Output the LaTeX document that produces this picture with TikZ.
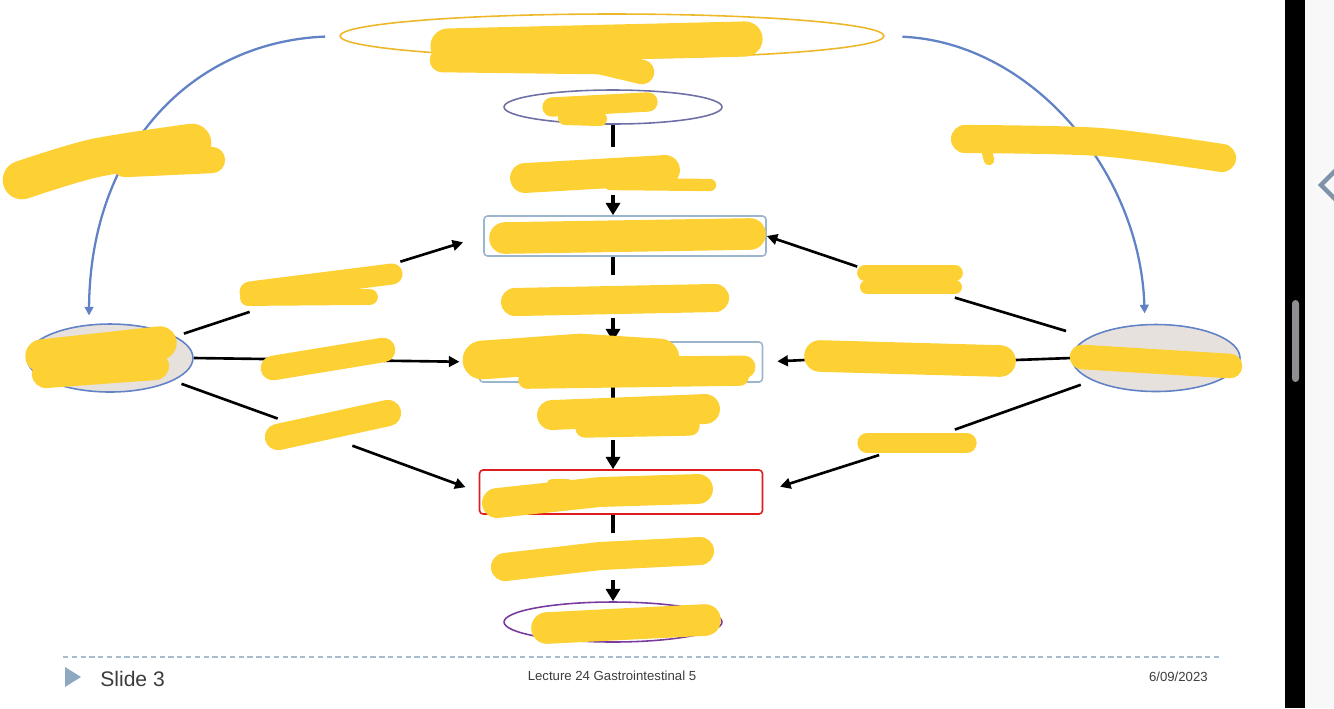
\documentclass[tikz,border=0pt]{standalone}
\usepackage{fontspec}
\setmainfont{Liberation Sans}
\usepackage{tikz}
\usetikzlibrary{arrows.meta}
\usetikzlibrary{positioning, shapes.geometric}

\definecolor{hlyellow}{RGB}{253,208,52}
\definecolor{ovalgold}{RGB}{236,183,40}
\definecolor{arcblue}{RGB}{98,130,198}
\definecolor{ovalslate}{RGB}{110,112,165}
\definecolor{boxgrey}{RGB}{156,180,204}
\definecolor{boxred}{RGB}{222,30,30}
\definecolor{ovalpurple}{RGB}{120,60,160}
\definecolor{sidefill}{RGB}{231,225,221}
\definecolor{footline}{RGB}{168,188,208}
\definecolor{foottri}{RGB}{143,168,194}
\definecolor{foottext}{RGB}{60,60,60}
\definecolor{panelgrey}{RGB}{248,248,248}
\definecolor{pillgrey}{RGB}{142,142,147}
\definecolor{chevgrey}{RGB}{127,147,168}

\begin{document}
\begin{tikzpicture}[x=0.02cm, y=-0.02cm,
    oval/.style={ellipse, draw, line width=0.9pt, inner sep=0pt},
    stepbox/.style={rectangle, rounded corners=2pt, draw, line width=0.9pt, inner sep=0pt},
    labelgap/.style={rectangle, inner sep=0pt},
    flow/.style={line width=2.2pt},
    flowarrow/.style={line width=2.2pt, -{Triangle[length=7pt, width=8pt]}},
    link/.style={line width=1.5pt},
    linkarrow/.style={line width=1.5pt, -{Triangle[length=6pt, width=6pt]}},
    bluearc/.style={draw=arcblue, line width=1.3pt, -{Triangle[length=5pt, width=5pt]}},
    scribble/.style={draw=hlyellow, line cap=round, line join=round}]
    \useasboundingbox (0,0) rectangle (1334,708);

    % right edge of the screen
    \fill[black] (1285,0) rectangle (1305,708);
    \fill[panelgrey] (1305,0) rectangle (1334,708);
    \fill[pillgrey, rounded corners=2pt] (1292,300) rectangle (1299,382);
    \draw[chevgrey, line width=2.5pt] (1336,170) -- (1321,185) -- (1336,200);

    % centre column
    \node[oval, draw=ovalgold, minimum width=10.88cm, minimum height=0.88cm] (top) at (612,36) {};
    \node[oval, draw=ovalslate, minimum width=4.36cm, minimum height=0.68cm] (src) at (613,107) {};
    \node[labelgap, minimum width=4.2cm, minimum height=0.94cm] (L1) at (613,171) {};
    \node[stepbox, draw=boxgrey, minimum width=5.64cm, minimum height=0.8cm] (box1) at (625,236) {};
    \node[labelgap, minimum width=4.4cm, minimum height=0.86cm] (L2) at (613,296.5) {};
    \node[stepbox, draw=boxgrey, minimum width=5.66cm, minimum height=0.8cm] (box2) at (621,362) {};
    \node[labelgap, minimum width=3.6cm, minimum height=0.84cm] (L3) at (613,419) {};
    \node[stepbox, draw=boxred, minimum width=5.66cm, minimum height=0.88cm] (box3) at (621,492) {};
    \node[labelgap, minimum width=4.4cm, minimum height=0.94cm] (L4) at (613,556.5) {};
    \node[oval, draw=ovalpurple, minimum width=4.36cm, minimum height=0.8cm] (sink) at (613,622) {};

    % side ovals
    \node[oval, draw=arcblue, fill=sidefill, minimum width=3.32cm, minimum height=1.36cm] (lell) at (110,358) {};
    \node[oval, draw=arcblue, fill=sidefill, minimum width=3.36cm, minimum height=1.34cm] (rell) at (1156,358) {};

    \node[labelgap, minimum width=3.0cm, minimum height=1.0cm] (LA) at (325,287) {};
    \node[labelgap, minimum width=1.48cm, minimum height=0.56cm] (LC) at (315,432) {};
    \node[labelgap, minimum width=1.94cm, minimum height=0.66cm] (RA) at (906,283) {};
    \node[labelgap, minimum width=4.2cm, minimum height=0.8cm] (RB) at (910,360) {};
    \node[labelgap, minimum width=1.5cm, minimum height=0.54cm] (RC) at (917,443) {};

    % centre arrows
    \draw[flow] (src) -- (L1);
    \draw[flowarrow] (L1) -- (L1 |- box1.north);
    \draw[flow] (L2 |- box1.south) -- (L2);
    \draw[flowarrow] (L2) -- (L2 |- box2.north);
    \draw[flow] (L3 |- box2.south) -- (L3);
    \draw[flowarrow] (L3) -- (L3 |- box3.north);
    \draw[flow] (L4 |- box3.south) -- (L4);
    \draw[flowarrow] (L4) -- (sink);

    % left links
    \draw[link, shorten <=5pt] (lell) -- (LA);
    \draw[linkarrow, shorten >=12pt] (LA.north east) -- (box1.west);
    \draw[linkarrow, shorten >=11pt] (lell.east) -- (box2.west);
    \draw[link, shorten <=5pt] (lell) -- (LC);
    \draw[linkarrow, shorten >=8pt] (LC) -- (box3.west);

    % right links
    \draw[link, shorten <=13pt] (rell) -- (RA);
    \draw[linkarrow] (RA) -- (box1.east);
    \draw[link] (rell.west) -- (RB.east);
    \draw[linkarrow, shorten >=8pt] (RB.west) -- (box2.east);
    \draw[link, shorten <=7pt] (rell) -- (RC);
    \draw[linkarrow, shorten >=10pt] (RC) -- (box3.east);

    % blue arcs from the top oval
    \draw[bluearc, shorten <=8pt, shorten >=5pt] (top.west) .. controls (190,42) and (90,150) .. (lell.122);
    \draw[bluearc, shorten <=10pt, shorten >=6pt] (top.east) .. controls (1030,42) and (1140,170) .. (rell.108);

    % yellow scribbles over the labels
    \draw[scribble, line width=20pt] (448,46) -- (745,39);
    \draw[scribble, line width=14pt] (442,60) -- (600,62) -- (642,72);
    \draw[scribble, line width=11pt] (552,107) -- (648,102);
    \draw[scribble, line width=8pt] (565,118) -- (600,119);
    \draw[scribble, line width=17pt] (525,178) -- (665,170);
    \draw[scribble, line width=7pt] (610,184) -- (710,185);
    \draw[scribble, line width=18pt] (505,238) -- (750,234);
    \draw[scribble, line width=16pt] (515,302) -- (715,298);
    \draw[scribble, line width=22pt] (482,360) -- (580,353) -- (660,358);
    \draw[scribble, line width=13pt] (530,369) -- (744,367);
    \draw[scribble, line width=10pt] (527,380) -- (740,377);
    \draw[scribble, line width=17pt] (552,415) -- (705,409);
    \draw[scribble, line width=11pt] (585,428) -- (690,426);
    \draw[scribble, line width=17pt] (497,503) -- (600,492) -- (698,489);
    \draw[scribble, line width=6pt] (552,484) -- (568,484);
    \draw[scribble, line width=16pt] (505,567) -- (600,556) -- (700,551);
    \draw[scribble, line width=18pt] (547,628) -- (705,620);
    \draw[scribble, line width=22pt] plot[smooth] coordinates {(22,180) (95,158) (192,143)};
    \draw[scribble, line width=15pt] (125,164) -- (212,160);
    \draw[scribble, line width=16pt] plot[smooth] coordinates {(965,139) (1100,142) (1222,158)};
    \draw[scribble, line width=6pt] (987,152) -- (989,160);
    \draw[scribble, line width=19pt] (42,356) -- (160,343);
    \draw[scribble, line width=16pt] (46,374) -- (155,366);
    \draw[scribble, line width=12pt] (250,292) -- (392,274);
    \draw[scribble, line width=9pt] (248,298) -- (370,297);
    \draw[scribble, line width=14pt] (273,368) -- (383,350);
    \draw[scribble, line width=15pt] (278,437) -- (388,413);
    \draw[scribble, line width=9pt] (865,273) -- (955,273);
    \draw[scribble, line width=8pt] (867,287) -- (955,287);
    \draw[scribble, line width=18pt] (820,356) -- (1000,361);
    \draw[scribble, line width=11pt] (867,443) -- (967,443);
    \draw[scribble, line width=14pt] (1082,357) -- (1230,366);

    % footer
    \draw[footline, line width=0.6pt, dash pattern=on 3pt off 2pt] (63,657) -- (1222,657);
    \fill[foottri] (65,667) -- (81,677) -- (65,687) -- cycle;
    \node[anchor=west, inner sep=0pt, text=foottext, font=\fontsize{12}{14}\selectfont] (slide) at (100,679) {Slide 3};
    \node[inner sep=0pt, text=foottext, font=\fontsize{7.5}{9}\selectfont] (lecture) at (612,676) {Lecture 24 Gastrointestinal 5};
    \node[anchor=east, inner sep=0pt, text=foottext, font=\fontsize{7.5}{9}\selectfont] (date) at (1208,677) {6/09/2023};
\end{tikzpicture}
\end{document}
